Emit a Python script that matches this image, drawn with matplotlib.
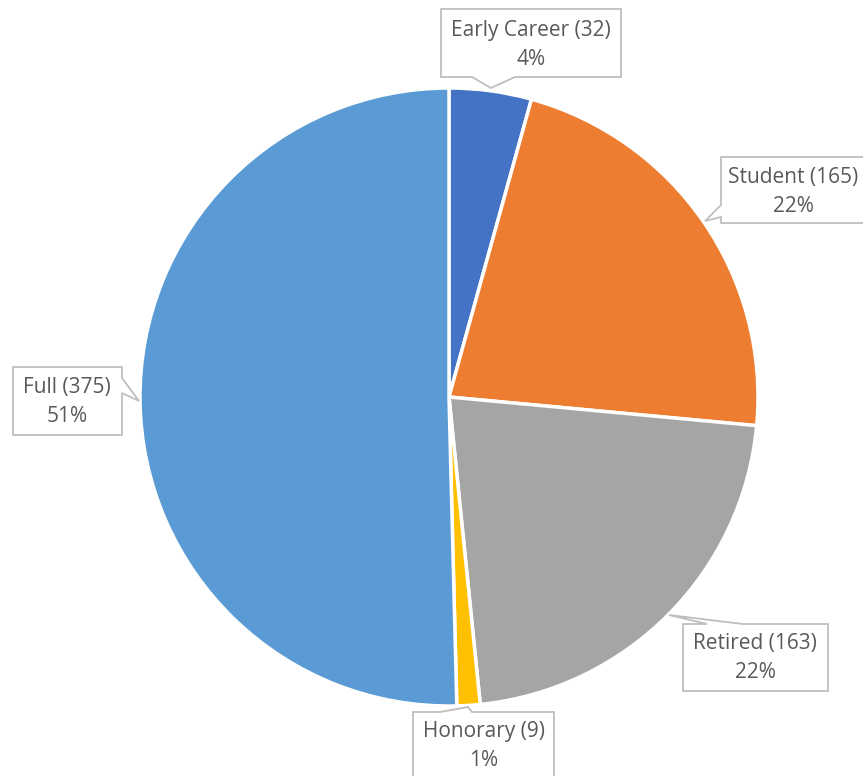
import matplotlib
matplotlib.use("Agg")
import matplotlib.pyplot as plt
from matplotlib.patches import Polygon

categories = ["Early Career", "Student", "Retired", "Honorary", "Full"]
values = [32, 165, 163, 9, 375]
pct_labels = ["4%", "22%", "22%", "1%", "51%"]
colors = ["#4472C4", "#ED7D31", "#A5A5A5", "#FFC000", "#5B9BD5"]

W, H = 863, 776
fig = plt.figure(figsize=(W / 100, H / 100), dpi=100)
ax = fig.add_axes([0, 0, 1, 1])

cx, cy, r = 449, H - 397, 309
ax.pie(values, colors=colors, startangle=90, counterclock=False,
       center=(cx, cy), radius=r, frame=True,
       wedgeprops=dict(edgecolor="white", linewidth=2.5))
ax.set_xlim(0, W)
ax.set_ylim(0, H)
ax.set_aspect("equal")
ax.axis("off")

# callout layout in pixel coords (y from top):
# (left, top, right, bottom), pointer side, base start, base end, tip
callouts = [
    ((441, 9, 621, 77), "bottom", 472, 515, (491, 88)),
    ((721, 157, 875, 223), "left", 205, 217, (705, 221)),
    ((683, 624, 828, 691), "top", 707, 743, (669, 615)),
    ((413, 712, 554, 790), "top", 440, 472, (468, 707)),
    ((13, 367, 122, 435), "right", 378, 393, (139, 401)),
]
text_centres = [(531, 45), (793, 192), (755, 658), (484, 746), (67, 402)]


def bubble(rect, side, a, b, tip):
    l, t, rr, bt = rect
    pts = [(l, t)]
    if side == "top":
        pts += [(a, t), tip, (b, t)]
    pts += [(rr, t)]
    if side == "right":
        pts += [(rr, a), tip, (rr, b)]
    pts += [(rr, bt)]
    if side == "bottom":
        pts += [(b, bt), tip, (a, bt)]
    pts += [(l, bt)]
    if side == "left":
        pts += [(l, b), tip, (l, a)]
    return [(x, H - y) for x, y in pts]


for cat, v, p, co, (tx, ty) in zip(categories, values, pct_labels, callouts, text_centres):
    poly = Polygon(bubble(*co), closed=True, fc="white", ec="#BFBFBF", lw=1.3,
                   zorder=5, clip_on=False)
    ax.add_patch(poly)
    ax.text(tx, H - ty, f"{cat} ({v})\n{p}", ha="center", va="center",
            fontsize=15, color="#595959", family=["Open Sans", "DejaVu Sans"],
            linespacing=1.55, zorder=6)

fig.savefig("out.png", dpi=100)
